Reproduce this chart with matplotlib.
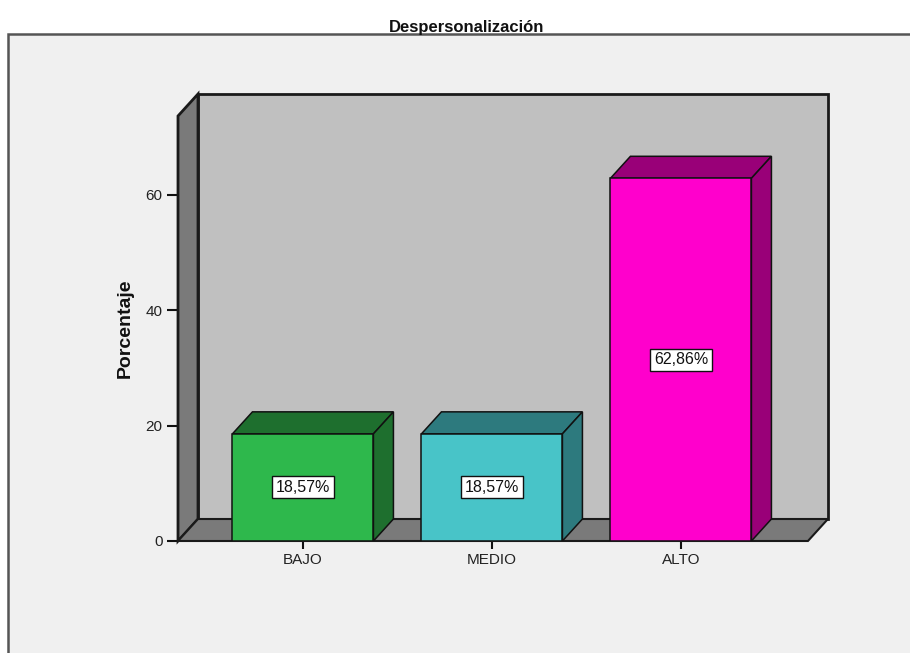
import numpy as np
import matplotlib
matplotlib.use('Agg')
import matplotlib.pyplot as plt
from matplotlib.patches import Rectangle, Polygon

plt.rcParams['font.family'] = ['Liberation Sans', 'DejaVu Sans']

categorias = ['BAJO', 'MEDIO', 'ALTO']
porcentajes = [18.57, 18.57, 62.86]
etiquetas = ['18,57%', '18,57%', '62,86%']
col_frente = ['#2eb84c', '#48c4c8', '#ff00cc']
col_lado = ['#1e6f2e', '#2d7a7e', '#990078']
yticks = [0, 20, 40, 60]

W, H = 910, 653
# escala en pixeles del plano frontal
px_cat = 189.0
px_pct = 5.77
x0 = -0.661
x1 = 2.672
ytop = 73.66
dx = 20 / px_cat
dy = 22 / px_pct
ancho = 0.746

fig = plt.figure(figsize=(W / 100, H / 100), dpi=100)
fig.patch.set_facecolor('white')

# panel gris del fondo
panel = Rectangle((8 / W, -0.1), 1.2, 1.1 - 34 / H, transform=fig.transFigure,
                  facecolor='#f0f0f0', edgecolor='#555555', lw=1.8, zorder=-5)
fig.patches.append(panel)

ax = fig.add_axes([178 / W, (H - 541) / H, 650 / W, 447 / H])
ax.set_xlim(x0, x0 + 650 / px_cat)
ax.set_ylim(0, 447 / px_pct)
ax.patch.set_visible(False)
for s in ax.spines.values():
    s.set_visible(False)

# pared del fondo, pared izquierda y piso
ax.add_patch(Rectangle((x0 + dx, dy), x1 - x0, ytop, facecolor='#c0c0c0',
                       edgecolor='#1a1a1a', lw=2, zorder=1, clip_on=False))
ax.add_patch(Polygon([(x0, 0), (x0, ytop), (x0 + dx, ytop + dy), (x0 + dx, dy)],
                     closed=True, facecolor='#7a7a7a', edgecolor='#1a1a1a',
                     lw=2, zorder=2, clip_on=False))
ax.add_patch(Polygon([(x0, 0), (x1, 0), (x1 + dx, dy), (x0 + dx, dy)],
                     closed=True, facecolor='#7a7a7a', edgecolor='#1a1a1a',
                     lw=1.5, zorder=2, clip_on=False))

# barras 3D
for i, v in enumerate(porcentajes):
    xl = i - ancho / 2
    xr = i + ancho / 2
    ax.add_patch(Polygon([(xl, v), (xr, v), (xr + dx, v + dy), (xl + dx, v + dy)],
                         closed=True, facecolor=col_lado[i], edgecolor='#111111',
                         lw=1.1, zorder=3))
    ax.add_patch(Polygon([(xr, 0), (xr + dx, dy), (xr + dx, v + dy), (xr, v)],
                         closed=True, facecolor=col_lado[i], edgecolor='#111111',
                         lw=1.1, zorder=3))
    ax.add_patch(Rectangle((xl, 0), ancho, v, facecolor=col_frente[i],
                           edgecolor='#111111', lw=1.1, zorder=4))
    ax.text(i, v / 2, etiquetas[i], ha='center', va='center', fontsize=11.5,
            color='#111111', zorder=5,
            bbox=dict(boxstyle='square,pad=0.22', facecolor='white',
                      edgecolor='#111111', lw=1))

ax.set_yticks(yticks)
ax.set_yticklabels([str(t) for t in yticks])
ax.set_xticks(range(len(categorias)))
ax.set_xticklabels(categorias)
ax.tick_params(axis='y', direction='out', length=8, width=1.5, pad=3,
               labelsize=11, color='#111111', labelcolor='#222222')
ax.tick_params(axis='x', direction='out', length=6, width=1.5, pad=3,
               labelsize=11, color='#111111', labelcolor='#222222')

ax.set_ylabel('Porcentaje', fontsize=14, fontweight='bold', color='#111111')
ax.yaxis.set_label_coords(-0.068, 0.477)

fig.text(467 / W, 1 - 32 / H, 'Despersonalización', ha='center', va='baseline',
         fontsize=12, fontweight='bold', color='#111111')

fig.savefig('out.png', dpi=100)
